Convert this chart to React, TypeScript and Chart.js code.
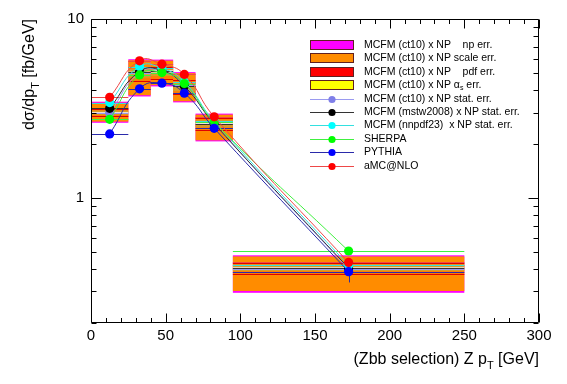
import { useEffect, useRef } from 'react';
import { Chart, registerables } from 'chart.js';

Chart.register(...registerables);

const FONT = '"Liberation Sans", Arial, Helvetica, sans-serif';

// ---- Data ----
const binLo = [0, 25, 40, 55, 70, 95];
const binHi = [25, 40, 55, 70, 95, 250];
const binCenters = [12.5, 32.5, 47.5, 62.5, 82.5, 172.5];

const mcfmCt10 = [2.98, 5.0, 5.1, 4.25, 2.6, 0.4];
const mcfmMstw = [3.17, 5.08, 5.15, 4.22, 2.6, 0.405];
const mcfmNnpdf = [3.41, 5.42, 5.3, 4.45, 2.68, 0.42];
const sherpa = [2.75, 4.87, 5.02, 4.36, 2.65, 0.505];
const pythia = [2.28, 4.07, 4.38, 3.85, 2.45, 0.387];
const pythiaErr = [0.03, 0.04, 0.04, 0.04, 0.03, 0.05];
const amcnlo = [3.65, 5.84, 5.59, 4.9, 2.84, 0.436];

const npLo = [2.63, 3.69, 4.2, 3.42, 2.07, 0.295];
const npHi = [3.45, 5.96, 5.93, 5.05, 2.96, 0.478];
const scaleLo = [2.67, 3.75, 4.27, 3.47, 2.1, 0.302];
const scaleHi = [3.4, 5.88, 5.85, 4.98, 2.92, 0.471];
const pdfLo = [2.86, 4.5, 4.6, 3.8, 2.4, 0.375];
const pdfHi = [3.16, 5.4, 5.4, 4.55, 2.78, 0.435];
const asLo = [2.92, 4.7, 4.8, 3.95, 2.48, 0.39];
const asHi = [3.08, 5.25, 5.3, 4.45, 2.72, 0.425];
const statLo = [2.95, 4.92, 5.02, 4.18, 2.56, 0.398];
const statHi = [3.02, 5.08, 5.18, 4.32, 2.64, 0.41];

const xMajorTicks = [0, 50, 100, 150, 200, 250, 300];
const xMinorTicks = [10, 20, 30, 40, 60, 70, 80, 90, 110, 120, 130, 140, 160, 170, 180, 190, 210, 220, 230, 240, 260, 270, 280, 290];
const yMajorTicks = [1, 10];
const yMinorTicks = [0.2, 0.3, 0.4, 0.5, 0.6, 0.7, 0.8, 0.9, 2, 3, 4, 5, 6, 7, 8, 9];

const series = [
  { label: 'MCFM (ct10) x NP stat. err.', data: mcfmCt10, marker: '#7f7fe8', line: '#9a9af0' },
  { label: 'MCFM (mstw2008) x NP stat. err.', data: mcfmMstw, marker: '#000000', line: '#333333' },
  { label: 'MCFM (nnpdf23)  x NP stat. err.', data: mcfmNnpdf, marker: '#00ffff', line: '#33e0e0' },
  { label: 'SHERPA', data: sherpa, marker: '#00ff00', line: '#40f040' },
  { label: 'PYTHIA', data: pythia, marker: '#0000ff', line: '#2a2aaa' },
  { label: 'aMC@NLO', data: amcnlo, marker: '#ff0000', line: '#ee4848' },
];

const bandLegend = [
  { label: 'MCFM (ct10) x NP    np err.', color: '#ff00ff' },
  { label: 'MCFM (ct10) x NP scale err.', color: '#ff8c00' },
  { label: 'MCFM (ct10) x NP    pdf err.', color: '#ff0000' },
  { label: 'MCFM (ct10) x NP ALPHA err.', color: '#ffff00' },
];

function drawRich(ctx: CanvasRenderingContext2D, parts: { t: string; sub?: boolean }[], x: number, y: number, size: number, align: 'left' | 'right') {
  const subSize = Math.round(size * 0.7);
  const widths = parts.map((p) => {
    ctx.font = `${p.sub ? subSize : size}px ${FONT}`;
    return ctx.measureText(p.t).width;
  });
  const total = widths.reduce((a, b) => a + b, 0);
  let cx = align === 'right' ? x - total : x;
  ctx.textAlign = 'left';
  parts.forEach((p, i) => {
    ctx.font = `${p.sub ? subSize : size}px ${FONT}`;
    ctx.fillText(p.t, cx, p.sub ? y + size * 0.3 : y);
    cx += widths[i];
  });
  return total;
}

const decorPlugin = {
  id: 'decor',
  beforeDatasetsDraw(chart: any) {
    const { ctx, chartArea, scales } = chart;
    const xs = scales.x;
    const ys = scales.y;
    ctx.save();
    ctx.beginPath();
    ctx.rect(chartArea.left, chartArea.top, chartArea.right - chartArea.left, chartArea.bottom - chartArea.top);
    ctx.clip();
    const box = (i: number, lo: number, hi: number, fill: string) => {
      const x0 = xs.getPixelForValue(binLo[i]);
      const x1 = xs.getPixelForValue(binHi[i]);
      const y0 = ys.getPixelForValue(hi);
      const y1 = ys.getPixelForValue(lo);
      ctx.fillStyle = fill;
      ctx.fillRect(x0, y0, x1 - x0, y1 - y0);
      return { x0, x1, y0, y1 };
    };
    for (let i = 0; i < binLo.length; i++) {
      box(i, npLo[i], npHi[i], '#ff00ff');
      box(i, scaleLo[i], scaleHi[i], '#ff8c00');
      const p = box(i, pdfLo[i], pdfHi[i], 'rgba(255,60,0,0.18)');
      ctx.strokeStyle = '#e00000';
      ctx.lineWidth = 1;
      ctx.beginPath();
      ctx.moveTo(p.x0, Math.round(p.y0) + 0.5);
      ctx.lineTo(p.x1, Math.round(p.y0) + 0.5);
      ctx.moveTo(p.x0, Math.round(p.y1) + 0.5);
      ctx.lineTo(p.x1, Math.round(p.y1) + 0.5);
      ctx.stroke();
      box(i, asLo[i], asHi[i], 'rgba(200,170,60,0.7)');
      box(i, statLo[i], statHi[i], 'rgba(240,240,255,0.85)');
    }
    // horizontal (bin width) error bars
    series.forEach((s) => {
      ctx.strokeStyle = s.line;
      ctx.lineWidth = 1;
      ctx.beginPath();
      s.data.forEach((v, i) => {
        const yy = Math.round(ys.getPixelForValue(v)) + 0.5;
        ctx.moveTo(xs.getPixelForValue(binLo[i]), yy);
        ctx.lineTo(xs.getPixelForValue(binHi[i]), yy);
      });
      ctx.stroke();
    });
    // vertical stat error bars for PYTHIA
    ctx.strokeStyle = '#2a2aaa';
    ctx.beginPath();
    pythia.forEach((v, i) => {
      const xx = Math.round(xs.getPixelForValue(binCenters[i])) + 0.5;
      ctx.moveTo(xx, ys.getPixelForValue(v + pythiaErr[i]));
      ctx.lineTo(xx, ys.getPixelForValue(v - pythiaErr[i]));
    });
    ctx.stroke();
    ctx.restore();
  },
  afterDraw(chart: any) {
    const { ctx, chartArea, scales } = chart;
    const xs = scales.x;
    const ys = scales.y;
    const L = Math.round(chartArea.left) + 0.5;
    const R = Math.round(chartArea.right) - 0.5;
    const T = Math.round(chartArea.top) + 0.5;
    const B = Math.round(chartArea.bottom) - 0.5;
    ctx.save();
    ctx.strokeStyle = '#000';
    ctx.lineWidth = 1;
    ctx.beginPath();
    ctx.rect(L, T, R - L, B - T);
    const xt = (v: number, len: number) => {
      const px = Math.round(xs.getPixelForValue(v)) + 0.5;
      ctx.moveTo(px, B);
      ctx.lineTo(px, B - len);
      ctx.moveTo(px, T);
      ctx.lineTo(px, T + len);
    };
    const yt = (v: number, len: number) => {
      const py = Math.round(ys.getPixelForValue(v)) + 0.5;
      ctx.moveTo(L, py);
      ctx.lineTo(L + len, py);
      ctx.moveTo(R, py);
      ctx.lineTo(R - len, py);
    };
    xMajorTicks.forEach((v) => xt(v, 9));
    xMinorTicks.forEach((v) => xt(v, 4.5));
    yMajorTicks.forEach((v) => yt(v, 10));
    yMinorTicks.forEach((v) => yt(v, 5));
    ctx.stroke();

    // axis titles
    ctx.fillStyle = '#000';
    ctx.textBaseline = 'alphabetic';
    drawRich(ctx, [{ t: '(Zbb selection) Z p' }, { t: 'T', sub: true }, { t: ' [GeV]' }], Math.round(chartArea.right), 364, 16, 'right');

    ctx.save();
    ctx.translate(34, Math.round(chartArea.top));
    ctx.rotate(-Math.PI / 2);
    drawRich(ctx, [{ t: 'd\u03c3/dp' }, { t: 'T', sub: true }, { t: ' [fb/GeV]' }], 0, 0, 16, 'right');
    ctx.restore();

    // legend
    const lx0 = 310;
    const lx1 = 354;
    const tx = 364;
    const rowY = (k: number) => 45 + k * 13.4;
    ctx.textBaseline = 'middle';
    const fs = 10.5;
    bandLegend.forEach((b, k) => {
      const cy = rowY(k);
      ctx.fillStyle = b.color;
      ctx.fillRect(lx0, Math.round(cy - 5), lx1 - lx0, 10);
      ctx.strokeStyle = '#602020';
      ctx.strokeRect(lx0 + 0.5, Math.round(cy - 5) + 0.5, lx1 - lx0 - 1, 9);
      ctx.fillStyle = '#000';
      if (b.label.includes('ALPHA')) {
        drawRich(ctx, [{ t: 'MCFM (ct10) x NP \u03b1' }, { t: 's', sub: true }, { t: ' err.' }], tx, cy, fs, 'left');
      } else {
        ctx.font = `${fs}px ${FONT}`;
        ctx.textAlign = 'left';
        ctx.fillText(b.label, tx, cy);
      }
    });
    series.forEach((s, j) => {
      const cy = Math.round(rowY(j + 4)) + 0.5;
      ctx.strokeStyle = s.line;
      ctx.beginPath();
      ctx.moveTo(lx0, cy);
      ctx.lineTo(lx1, cy);
      ctx.stroke();
      ctx.fillStyle = s.marker;
      ctx.beginPath();
      ctx.arc((lx0 + lx1) / 2, cy, 3.6, 0, Math.PI * 2);
      ctx.fill();
      ctx.fillStyle = '#000';
      ctx.font = `${fs}px ${FONT}`;
      ctx.textAlign = 'left';
      ctx.fillText(s.label, tx, cy);
    });
    ctx.restore();
  },
};

export default function App() {
  const ref = useRef<HTMLCanvasElement>(null);
  useEffect(() => {
    document.body.style.margin = '0';
    const drawOrder = [4, 5, 3, 2, 1, 0];
    const chart = new Chart(ref.current as HTMLCanvasElement, {
      type: 'line',
      data: {
        datasets: drawOrder.map((k) => {
          const s = series[k];
          return {
            label: s.label,
            data: s.data.map((v, i) => ({ x: binCenters[i], y: v })),
            borderColor: s.line,
            backgroundColor: s.marker,
            pointBackgroundColor: s.marker,
            pointBorderColor: s.marker,
            pointBorderWidth: 0,
            pointRadius: 4.6,
            borderWidth: 1,
            tension: 0.5,
            fill: false,
          };
        }),
      },
      options: {
        responsive: true,
        maintainAspectRatio: false,
        animation: false,
        devicePixelRatio: 1,
        layout: { padding: { top: 19, right: 28, left: 0, bottom: 0 } },
        plugins: { legend: { display: false }, tooltip: { enabled: false } },
        scales: {
          x: {
            type: 'linear',
            min: 0,
            max: 300,
            grid: { display: false, drawTicks: false },
            border: { display: false },
            ticks: {
              stepSize: 50,
              color: '#000',
              font: { family: FONT, size: 15 },
              padding: 4,
              maxRotation: 0,
              autoSkip: false,
            },
            afterFit: (s: any) => {
              s.height = 61;
            },
          },
          y: {
            type: 'logarithmic',
            min: 0.2,
            max: 10,
            grid: { display: false, drawTicks: false },
            border: { display: false },
            ticks: {
              color: '#000',
              font: { family: FONT, size: 15 },
              padding: 7,
              autoSkip: false,
              callback: (v: any) => {
                const n = Number(v);
                if (Math.abs(n - 1) < 1e-9) return '1';
                if (Math.abs(n - 10) < 1e-9) return '10';
                return '';
              },
            },
            afterFit: (s: any) => {
              s.width = 91;
            },
          },
        },
      },
      plugins: [decorPlugin],
    } as any);
    return () => chart.destroy();
  }, []);
  return (
    <div style={{ width: 567, height: 384, position: 'relative' }}>
      <canvas ref={ref} />
    </div>
  );
}
